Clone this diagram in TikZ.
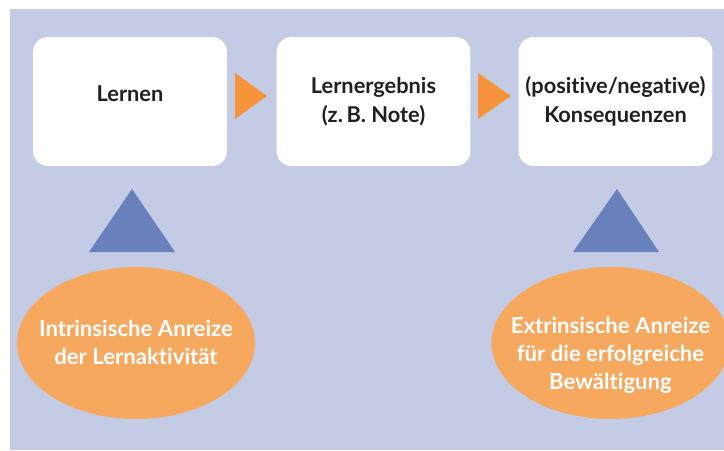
\documentclass[tikz,border=0pt]{standalone}
\usepackage{fontspec}
\setmainfont{Lato}[Ligatures={NoCommon}]
\usetikzlibrary{shapes.geometric}

\definecolor{hintergrund}{RGB}{196,203,229}
\definecolor{textgrau}{RGB}{35,31,32}
\definecolor{pfeilorange}{RGB}{246,147,59}
\definecolor{keilblau}{RGB}{104,129,188}
\definecolor{anreizorange}{RGB}{247,168,95}

\begin{document}
\begin{tikzpicture}[x=0.02cm,y=-0.02cm,
schritt/.style={fill=white,rounded corners=0.3cm,minimum width=3.88cm,
 minimum height=2.58cm,inner sep=0pt,align=center,text=textgrau,
 font=\fontsize{12.4}{16.2}\selectfont\bfseries},
anreiz/.style={ellipse,fill=anreizorange,minimum width=4.76cm,
 minimum height=3.04cm,inner sep=0pt},
anreiztext/.style={align=center,text=white,
 font=\fontsize{12.6}{16}\selectfont\bfseries},
pfeil/.style={fill=pfeilorange}, keil/.style={fill=keilblau}]
\useasboundingbox (0,0) rectangle (724,450);
\fill[hintergrund] (10,9) rectangle (724,450);
% Kette
\node[schritt,text depth=9pt] (lernen) at (130,101.5) {Lernen};
\node[schritt] (ergebnis) at (373.5,101.5) {Lernergebnis\\(z.\,B. Note)};
\node[schritt] (folgen) at (615.5,101.5) {(positive/negative)\\Konsequenzen};
\fill[pfeil] (235,73) -- (235,119) -- (267,96) -- cycle;
\fill[pfeil] (478,73) -- (478,119) -- (511,96) -- cycle;
% Anreize
\fill[keil] (89,252) -- (132,189) -- (175,252) -- cycle;
\fill[keil] (573,252) -- (617,189) -- (659,252) -- cycle;
\node[anreiz] (intrinsisch) at (136,343) {};
\node[anreiz] (extrinsisch) at (610.5,343) {};
\node[anreiztext] (intrinsischtext) at (136,342) {Intrinsische Anreize\\der Lernaktivität};
\node[anreiztext] (extrinsischtext) at (610.5,355) {Extrinsische Anreize\\für die erfolgreiche\\Bewältigung};
\end{tikzpicture}
\end{document}
